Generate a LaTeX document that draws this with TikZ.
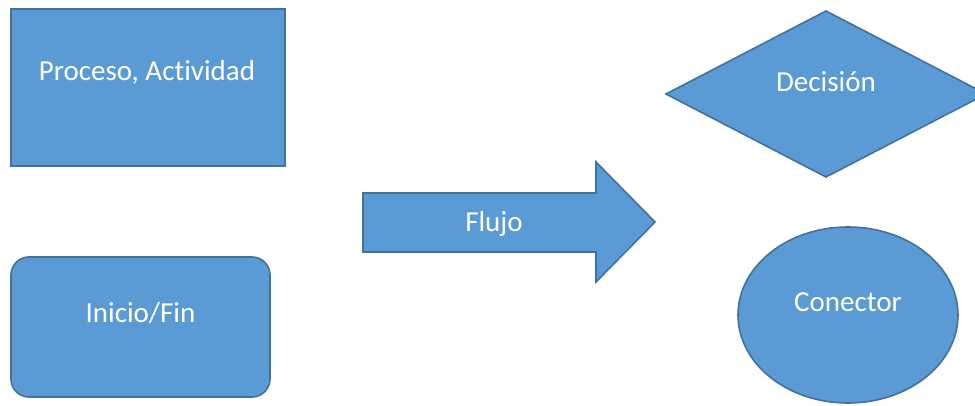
\documentclass[tikz,border=0pt]{standalone}
\usepackage{fontspec}
\setmainfont[Ligatures=NoCommon]{Carlito}
\usetikzlibrary{shapes.geometric}
\definecolor{shapefill}{HTML}{5B9BD5}
\definecolor{shapeline}{HTML}{41719C}
\begin{document}
\begin{tikzpicture}[x=1pt,y=-1pt,
  shapebox/.style={draw=shapeline,fill=shapefill,line width=1.6pt},
  caption/.style={text=white,font=\fontsize{29}{35}\selectfont,anchor=base,inner sep=0pt}]
  \useasboundingbox (0,0) rectangle (975,406);
  \clip (0,0) rectangle (975,406);
  \fill[white] (0,0) rectangle (975,406);

  % process / activity
  \node[shapebox,rectangle,minimum width=274pt,minimum height=157pt,inner sep=0pt,outer sep=0pt] (proc) at (148,87.5) {};
  \node[caption] (proctext) at (147,81) {Proceso, Actividad};

  % start / end
  \node[shapebox,rectangle,rounded corners=18pt,minimum width=259pt,minimum height=140pt,inner sep=0pt,outer sep=0pt] (term) at (140.5,327) {};
  \node[caption] (termtext) at (140.5,322) {Inicio/Fin};

  % flow arrow
  \draw[shapebox,line join=miter] (363,193) -- (596,193) -- (596,162) -- (655,222)
      -- (596,282) -- (596,252) -- (363,252) -- cycle;
  \node[caption] (flowtext) at (494,232) {Flujo};

  % decision
  \draw[shapebox,line join=miter] (826,11) -- (986,94) -- (826,177) -- (666,94) -- cycle;
  \node[caption] (dectext) at (826,92) {Decisión};

  % connector
  \node[shapebox,ellipse,minimum width=220pt,minimum height=176pt,inner sep=0pt,outer sep=0pt] (conn) at (848,315) {};
  \node[caption] (conntext) at (848,312) {Conector};
\end{tikzpicture}
\end{document}
